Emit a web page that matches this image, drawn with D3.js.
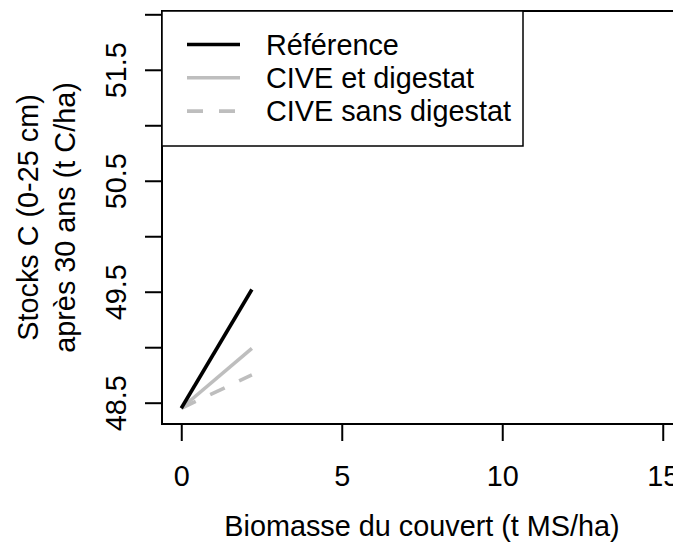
<!DOCTYPE html>
<html>
<head>
<meta charset="utf-8">
<script src="https://cdn.jsdelivr.net/npm/d3@7"></script>
<style>
  body { margin: 0; background: #fff; }
  svg text { font-family: "Liberation Sans", Arial, sans-serif; }
</style>
</head>
<body>
<div id="chart"></div>
<script>
// data
var biomasse = [0, 2.2];
var reference = [48.45, 49.52];
var civeDigestat = [48.45, 48.99];
var civeSansDigestat = [48.45, 48.75];

var xTicks = [0, 5, 10, 15];
var yTicks = [48.5, 49, 49.5, 50, 50.5, 51, 51.5, 52];
var yLabelled = ["48.5", "49.5", "50.5", "51.5"];

var seriesNames = ["Référence", "CIVE et digestat", "CIVE sans digestat"];

var width = 673, height = 542;
var plotL = 162, plotR = 682, plotT = 11, plotB = 424;
var fs = 28.8;

var svg = d3.select("#chart").append("svg")
    .attr("width", width)
    .attr("height", height);

// R style: xlim 0..15 with 4% extension
var x = d3.scaleLinear().domain([-0.6, 15.6]).range([plotL, plotR]);
var y = d3.scaleLinear().domain([48.5, 52]).range([402.7, 14.3]);

var series = [
    {name: seriesNames[0], values: reference, color: "#000000", dash: null},
    {name: seriesNames[1], values: civeDigestat, color: "#bebebe", dash: null},
    {name: seriesNames[2], values: civeSansDigestat, color: "#bebebe", dash: "16,16"}
];

var line = d3.line()
    .x(function(d){ return x(d[0]); })
    .y(function(d){ return y(d[1]); });

// grey ones first so black stays on top
series.slice().reverse().forEach(function(s){
    svg.append("path")
        .datum(biomasse.map(function(b, i){ return [b, s.values[i]]; }))
        .attr("d", line)
        .attr("fill", "none")
        .attr("stroke", s.color)
        .attr("stroke-width", 3.6)
        .attr("stroke-dasharray", s.dash);
});

// axes
var xAxis = svg.append("g")
    .attr("transform", "translate(0," + plotB + ")")
    .call(d3.axisBottom(x).tickValues(xTicks).tickSize(17).tickFormat(d3.format("d")));
xAxis.select(".domain").remove();
xAxis.selectAll(".tick line").attr("stroke", "#000").attr("stroke-width", 2);
xAxis.selectAll("text")
    .attr("font-size", fs)
    .attr("fill", "#000")
    .attr("dy", 0)
    .attr("y", 62);

var yAxis = svg.append("g")
    .attr("transform", "translate(" + plotL + ",0)")
    .call(d3.axisLeft(y).tickValues(yTicks).tickSize(17)
        .tickFormat(function(d){
            var s = d3.format(".1f")(d);
            return yLabelled.indexOf(s) >= 0 ? s : "";
        }));
yAxis.select(".domain").remove();
yAxis.selectAll(".tick line").attr("stroke", "#000").attr("stroke-width", 2);
yAxis.selectAll("text")
    .attr("transform", "rotate(-90)")
    .attr("x", 0)
    .attr("y", -36)
    .attr("dy", 0)
    .attr("text-anchor", "middle")
    .attr("font-size", fs)
    .attr("fill", "#000");

// plot box
svg.append("rect")
    .attr("x", plotL).attr("y", plotT)
    .attr("width", plotR - plotL).attr("height", plotB - plotT)
    .attr("fill", "none")
    .attr("stroke", "#000")
    .attr("stroke-width", 2);

// axis titles
svg.append("text")
    .attr("x", (plotL + plotR) / 2)
    .attr("y", 536)
    .attr("text-anchor", "middle")
    .attr("font-size", fs)
    .text("Biomasse du couvert (t MS/ha)");

var yTitle = svg.append("g")
    .attr("transform", "translate(0," + (plotT + plotB) / 2 + ") rotate(-90)");
yTitle.append("text")
    .attr("x", 0).attr("y", 38)
    .attr("text-anchor", "middle")
    .attr("font-size", fs)
    .text("Stocks C (0-25 cm)");
yTitle.append("text")
    .attr("x", 0).attr("y", 75)
    .attr("text-anchor", "middle")
    .attr("font-size", fs)
    .text("après 30 ans (t C/ha)");

// legend
var legend = svg.append("g");
legend.append("rect")
    .attr("x", plotL).attr("y", plotT)
    .attr("width", 361).attr("height", 135)
    .attr("fill", "#fff")
    .attr("stroke", "#000")
    .attr("stroke-width", 1.5);

series.forEach(function(s, i){
    var ly = 44.5 + i * 33.3;
    legend.append("line")
        .attr("x1", 187).attr("x2", 240)
        .attr("y1", ly).attr("y2", ly)
        .attr("stroke", s.color)
        .attr("stroke-width", 3.6)
        .attr("stroke-dasharray", s.dash);
    legend.append("text")
        .attr("x", 266).attr("y", ly + 10)
        .attr("font-size", fs)
        .text(s.name);
});
</script>
</body>
</html>
